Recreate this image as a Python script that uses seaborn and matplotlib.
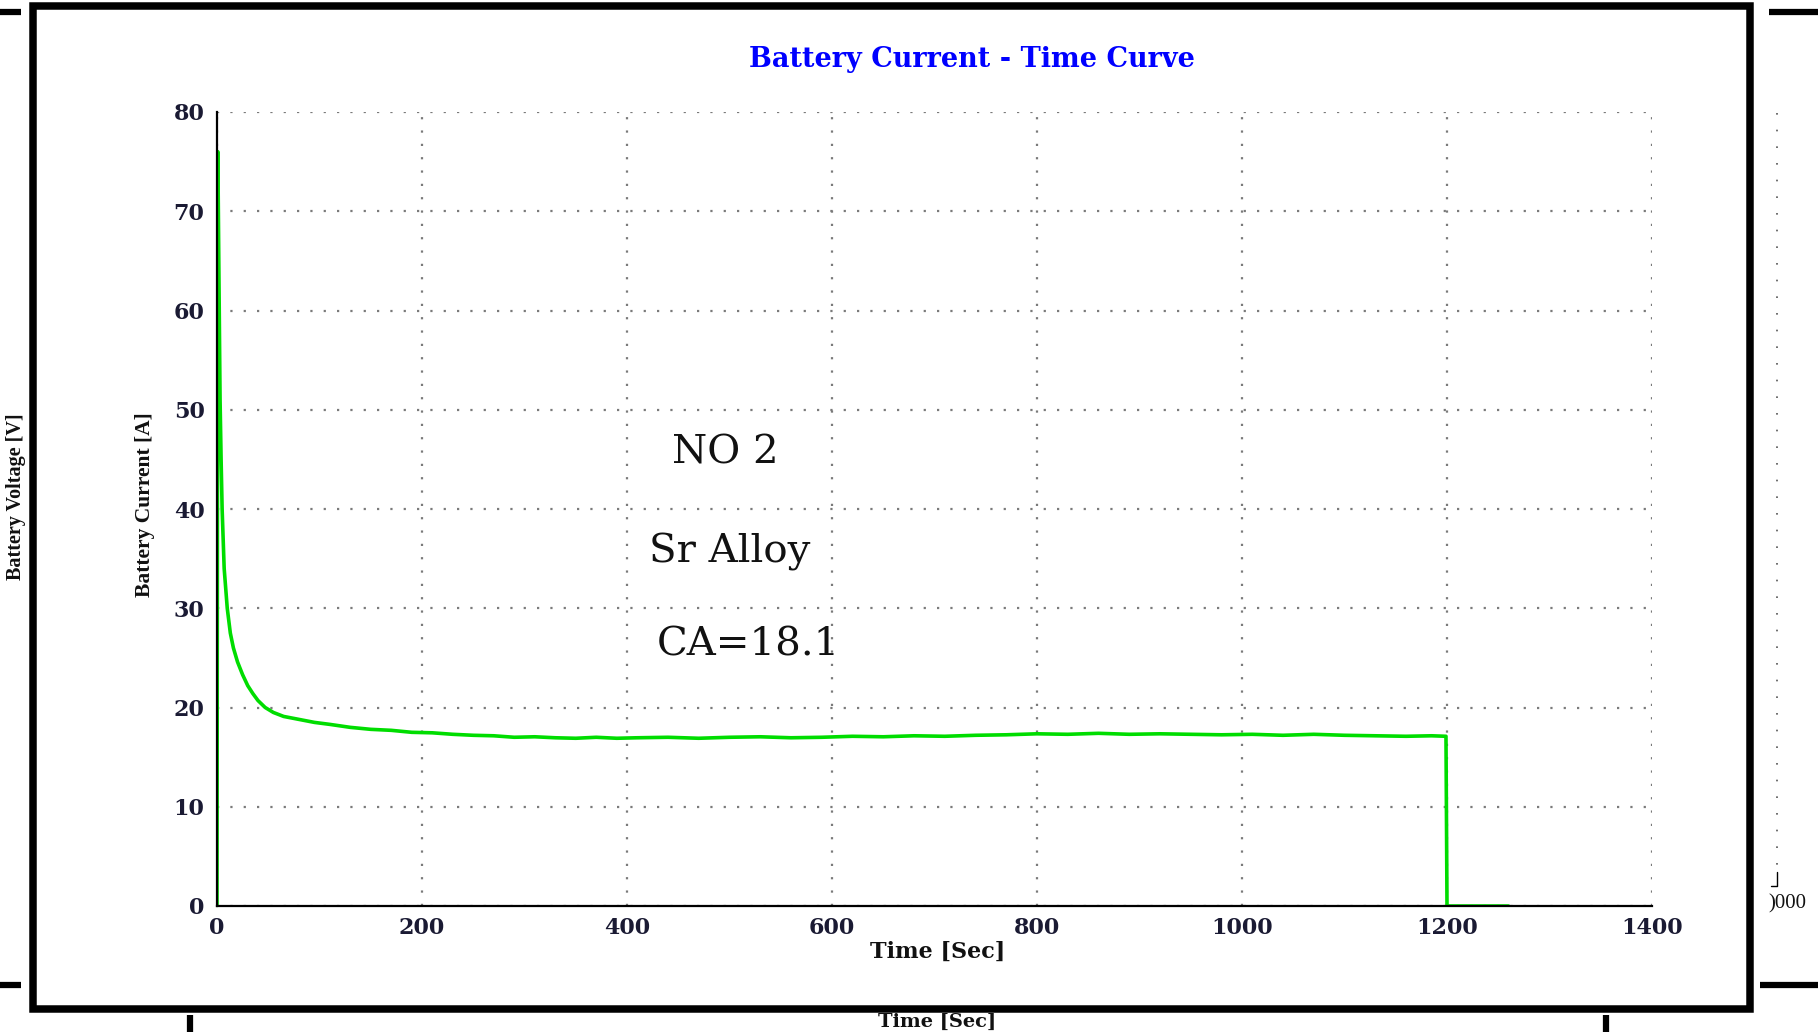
import matplotlib
matplotlib.use("Agg")
import matplotlib.pyplot as plt
from matplotlib.lines import Line2D
from matplotlib.patches import Rectangle
from matplotlib.ticker import MultipleLocator
import seaborn as sns
import pandas as pd

# ---------------- data ----------------
time_s = [0, 0.8, 1.5, 2.2, 3, 4, 5, 7, 10, 13, 16, 20, 25, 30, 35, 40, 47, 55, 65, 80,
          95, 110, 130, 150, 170, 190, 210, 230, 250, 270, 290, 310, 330, 350, 370,
          390, 410, 440, 470, 500, 530, 560, 590, 620, 650, 680, 710, 740, 770, 800,
          830, 860, 890, 920, 950, 980, 1010, 1040, 1070, 1100, 1130, 1160, 1185,
          1199, 1200, 1230, 1260]
current_a = [0, 76, 68, 60, 51, 45, 40, 34, 30, 27.5, 26, 24.6, 23.3, 22.2, 21.4, 20.7, 20.0,
             19.5, 19.1, 18.8, 18.5, 18.3, 18.0, 17.8, 17.7, 17.5, 17.45, 17.3, 17.2,
             17.15, 17.0, 17.05, 16.95, 16.9, 17.0, 16.9, 16.95, 17.0, 16.9, 17.0, 17.05,
             16.95, 17.0, 17.1, 17.05, 17.15, 17.1, 17.2, 17.25, 17.35, 17.3, 17.4,
             17.3, 17.35, 17.3, 17.25, 17.3, 17.2, 17.3, 17.2, 17.15, 17.1, 17.15,
             17.1, 0, 0, 0]

x_ticks = [0, 200, 400, 600, 800, 1000, 1200, 1400]
y_ticks = [0, 10, 20, 30, 40, 50, 60, 70, 80]

title_text = "Battery Current - Time Curve"
x_label = "Time [Sec]"
y_label = "Battery Current [A]"
notes = ["NO 2", "Sr Alloy", "CA=18.1"]
note_x = [496, 500, 518]
note_y = [45.6, 35.7, 26.3]

# ---------------- figure ----------------
sns.set_style("white")
W, H = 1818, 1032
fig = plt.figure(figsize=(W / 100, H / 100), dpi=100)
fig.patch.set_facecolor("white")


def fx(px):
    return px / W


def fy(py):
    return 1 - py / H


ax_l, ax_r, ax_t, ax_b = 217, 1652, 112, 906
ax = fig.add_axes([fx(ax_l), fy(ax_b), fx(ax_r - ax_l), (ax_b - ax_t) / H])

df = pd.DataFrame({"t": time_s, "i": current_a})
sns.lineplot(data=df, x="t", y="i", ax=ax, color="#00dd00", linewidth=2.6,
             estimator=None, sort=False, legend=False)

ax.set_xlim(0, 1400)
ax.set_ylim(0, 80)
ax.set_xticks(x_ticks)
ax.set_yticks(y_ticks)
ax.xaxis.set_minor_locator(MultipleLocator(25))
ax.yaxis.set_minor_locator(MultipleLocator(2.5))

tick_font = dict(family="DejaVu Serif", weight="bold", size=16)
ax.set_xticklabels([str(v) for v in x_ticks], fontdict=tick_font)
ax.set_yticklabels([str(v) for v in y_ticks], fontdict=tick_font)

ax.tick_params(axis="y", which="major", direction="in", length=10, width=1.6,
               pad=9, colors="black")
ax.tick_params(axis="x", which="major", direction="in", length=7, width=1.6,
               pad=8, colors="black")
ax.tick_params(which="minor", direction="in", length=3, width=0.8, colors="#444444")
for lab in ax.get_xticklabels() + ax.get_yticklabels():
    lab.set_color("#1a1a33")

for side in ["top", "right"]:
    ax.spines[side].set_visible(False)
for side in ["left", "bottom"]:
    ax.spines[side].set_color("black")
    ax.spines[side].set_linewidth(1.6)

ax.grid(True, which="major", color="#7a7a7a", linestyle=(0, (1, 5)), linewidth=1.6)
ax.set_axisbelow(True)

t = ax.set_title(title_text, color="#0000ff", fontsize=19.5, fontweight="bold",
                 family="DejaVu Serif", x=0.526, y=1.056)
t.set_va("center")

ax.set_xlabel(x_label, fontsize=16, fontweight="bold", family="DejaVu Serif",
              color="#111111")
ax.xaxis.set_label_coords(0.502, -0.058)
ax.xaxis.label.set_va("center")
ax.set_ylabel(y_label, fontsize=15.5, fontweight="bold", family="Liberation Serif",
              color="#111111")
ax.yaxis.set_label_coords(-0.050, 0.506)
ax.yaxis.label.set_va("center")

for s, xv, yv in zip(notes, note_x, note_y):
    ax.text(xv, yv, s, ha="center", va="center", fontsize=29,
            family="DejaVu Serif", color="#111111")

# ---------------- frame and neighbouring fragments of the page ----------------
fig.add_artist(Rectangle((fx(33), fy(1008.5)), fx(1750 - 33), (1008.5 - 6) / H,
                         transform=fig.transFigure, fill=False,
                         edgecolor="black", linewidth=5.4))


def hbar(x0, x1, y, lw=4.5):
    fig.add_artist(Line2D([fx(x0), fx(x1)], [fy(y), fy(y)], transform=fig.transFigure,
                          color="black", linewidth=lw, solid_capstyle="butt"))


def vbar(x, y0, y1, lw=4.5):
    fig.add_artist(Line2D([fx(x), fx(x)], [fy(y0), fy(y1)], transform=fig.transFigure,
                          color="black", linewidth=lw, solid_capstyle="butt"))


hbar(0, 21, 12)
hbar(1769, 1818, 11.5)
hbar(0, 21, 984.5)
hbar(1760, 1818, 984.5)
vbar(190, 1015, 1032)
vbar(1606, 1015, 1032)

fig.add_artist(Line2D([fx(1777), fx(1777)], [fy(113), fy(878)], transform=fig.transFigure,
                      color="#555555", linewidth=1.2, linestyle=(0, (1, 9))))
fig.add_artist(Line2D([fx(1771), fx(1777), fx(1777)], [fy(886), fy(886), fy(872)],
                      transform=fig.transFigure, color="black", linewidth=1.0))
fig.text(fx(1768), fy(904), ")000", fontsize=15, family="Liberation Serif",
         ha="left", va="center", color="#111111")

fig.text(fx(16), fy(497), "Battery Voltage [V]", rotation=90, fontsize=14.5,
         fontweight="bold", family="Liberation Serif", ha="center", va="center",
         color="#111111")
fig.text(fx(937), fy(1013), x_label, fontsize=14, fontweight="bold",
         family="DejaVu Serif", ha="center", va="top", color="#111111")

fig.savefig("out.png", dpi=100, facecolor="white")
